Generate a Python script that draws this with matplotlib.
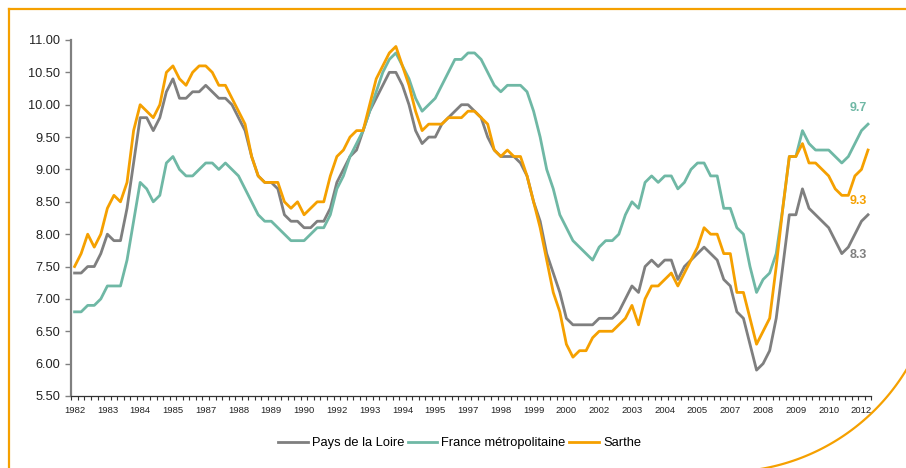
import numpy as np
import matplotlib
matplotlib.use("Agg")
import matplotlib.pyplot as plt
from matplotlib.lines import Line2D

plt.rcParams['font.family'] = ['Liberation Sans', 'DejaVu Sans']

# quarterly unemployment rate (%), 1982 Q1 -> 2012 Q2
pays_loire = [7.4, 7.4, 7.5, 7.5, 7.7, 8.0, 7.9, 7.9, 8.4, 9.1,
              9.8, 9.8, 9.6, 9.8, 10.2, 10.4, 10.1, 10.1, 10.2, 10.2,
              10.3, 10.2, 10.1, 10.1, 10.0, 9.8, 9.6, 9.2, 8.9, 8.8,
              8.8, 8.7, 8.3, 8.2, 8.2, 8.1, 8.1, 8.2, 8.2, 8.4,
              8.8, 9.0, 9.2, 9.3, 9.6, 9.9, 10.1, 10.3, 10.5, 10.5,
              10.3, 10.0, 9.6, 9.4, 9.5, 9.5, 9.7, 9.8, 9.9, 10.0,
              10.0, 9.9, 9.8, 9.5, 9.3, 9.2, 9.2, 9.2, 9.1, 8.9,
              8.5, 8.2, 7.7, 7.4, 7.1, 6.7, 6.6, 6.6, 6.6, 6.6,
              6.7, 6.7, 6.7, 6.8, 7.0, 7.2, 7.1, 7.5, 7.6, 7.5,
              7.6, 7.6, 7.3, 7.5, 7.6, 7.7, 7.8, 7.7, 7.6, 7.3,
              7.2, 6.8, 6.7, 6.3, 5.9, 6.0, 6.2, 6.7, 7.5, 8.3,
              8.3, 8.7, 8.4, 8.3, 8.2, 8.1, 7.9, 7.7, 7.8, 8.0,
              8.2, 8.3]
france = [6.8, 6.8, 6.9, 6.9, 7.0, 7.2, 7.2, 7.2, 7.6, 8.2,
          8.8, 8.7, 8.5, 8.6, 9.1, 9.2, 9.0, 8.9, 8.9, 9.0,
          9.1, 9.1, 9.0, 9.1, 9.0, 8.9, 8.7, 8.5, 8.3, 8.2,
          8.2, 8.1, 8.0, 7.9, 7.9, 7.9, 8.0, 8.1, 8.1, 8.3,
          8.7, 8.9, 9.2, 9.4, 9.6, 9.9, 10.2, 10.5, 10.7, 10.8,
          10.6, 10.4, 10.1, 9.9, 10.0, 10.1, 10.3, 10.5, 10.7, 10.7,
          10.8, 10.8, 10.7, 10.5, 10.3, 10.2, 10.3, 10.3, 10.3, 10.2,
          9.9, 9.5, 9.0, 8.7, 8.3, 8.1, 7.9, 7.8, 7.7, 7.6,
          7.8, 7.9, 7.9, 8.0, 8.3, 8.5, 8.4, 8.8, 8.9, 8.8,
          8.9, 8.9, 8.7, 8.8, 9.0, 9.1, 9.1, 8.9, 8.9, 8.4,
          8.4, 8.1, 8.0, 7.5, 7.1, 7.3, 7.4, 7.7, 8.4, 9.2,
          9.2, 9.6, 9.4, 9.3, 9.3, 9.3, 9.2, 9.1, 9.2, 9.4,
          9.6, 9.7]
sarthe = [7.5, 7.7, 8.0, 7.8, 8.0, 8.4, 8.6, 8.5, 8.8, 9.6,
          10.0, 9.9, 9.8, 10.0, 10.5, 10.6, 10.4, 10.3, 10.5, 10.6,
          10.6, 10.5, 10.3, 10.3, 10.1, 9.9, 9.7, 9.2, 8.9, 8.8,
          8.8, 8.8, 8.5, 8.4, 8.5, 8.3, 8.4, 8.5, 8.5, 8.9,
          9.2, 9.3, 9.5, 9.6, 9.6, 10.0, 10.4, 10.6, 10.8, 10.9,
          10.6, 10.3, 9.9, 9.6, 9.7, 9.7, 9.7, 9.8, 9.8, 9.8,
          9.9, 9.9, 9.8, 9.7, 9.3, 9.2, 9.3, 9.2, 9.2, 8.9,
          8.5, 8.1, 7.6, 7.1, 6.8, 6.3, 6.1, 6.2, 6.2, 6.4,
          6.5, 6.5, 6.5, 6.6, 6.7, 6.9, 6.6, 7.0, 7.2, 7.2,
          7.3, 7.4, 7.2, 7.4, 7.6, 7.8, 8.1, 8.0, 8.0, 7.7,
          7.7, 7.1, 7.1, 6.7, 6.3, 6.5, 6.7, 7.5, 8.4, 9.2,
          9.2, 9.4, 9.1, 9.1, 9.0, 8.9, 8.7, 8.6, 8.6, 8.9,
          9.0, 9.3]

# one label every 5 quarters (as in the original spreadsheet)
xtick_pos = list(range(0, 121, 5))
xtick_labels = ['1982', '1983', '1984', '1985', '1987', '1988', '1989', '1990',
                '1992', '1993', '1994', '1995', '1997', '1998', '1999', '2000',
                '2002', '2003', '2004', '2005', '2007', '2008', '2009', '2010',
                '2012']
yticks = [5.5, 6.0, 6.5, 7.0, 7.5, 8.0, 8.5, 9.0, 9.5, 10.0, 10.5, 11.0]

c_grey = '#7f7f7f'
c_teal = '#6fb8a5'
c_orange = '#f5a000'

fig = plt.figure(figsize=(9.06, 4.68), dpi=100)
ax = fig.add_axes([71.3 / 906, 1 - 396 / 468, 800 / 906, 356 / 468])

x = np.arange(len(pays_loire))
ax.plot(x, pays_loire, color=c_grey, lw=2.0, label='Pays de la Loire')
ax.plot(x, france, color=c_teal, lw=2.0, label='France métropolitaine')
ax.plot(x, sarthe, color=c_orange, lw=2.0, label='Sarthe')

ax.set_xlim(-0.5, len(x) - 0.5)
ax.set_ylim(5.5, 11.0)
ax.set_yticks(yticks)
ax.set_yticklabels(['%.2f' % v for v in yticks], fontsize=9.2, color='#222222')
ax.set_xticks(xtick_pos)
ax.set_xticklabels(xtick_labels, fontsize=6.8, color='#222222')
ax.set_xticks(np.arange(-0.5, len(x), 1.0), minor=True)
ax.tick_params(axis='x', which='major', length=0, pad=7)
ax.tick_params(axis='x', which='minor', length=3, width=0.8, color='#333333')
ax.tick_params(axis='y', length=4, width=1.0, color='#808080', pad=4)

for s in ['top', 'right']:
    ax.spines[s].set_visible(False)
ax.spines['left'].set_color('#808080')
ax.spines['left'].set_linewidth(1.6)
ax.spines['bottom'].set_color('#333333')
ax.spines['bottom'].set_linewidth(0.9)

# end labels
ax.annotate('9.7', (x[-1], france[-1]), xytext=(-10, 16), textcoords='offset pixels',
            ha='center', va='center', color=c_teal, fontsize=9, fontweight='bold')
ax.annotate('9.3', (x[-1], sarthe[-1]), xytext=(-10, -51), textcoords='offset pixels',
            ha='center', va='center', color=c_orange, fontsize=9, fontweight='bold')
ax.annotate('8.3', (x[-1], pays_loire[-1]), xytext=(-10, -40), textcoords='offset pixels',
            ha='center', va='center', color=c_grey, fontsize=9, fontweight='bold')

fig.legend(loc='center', bbox_to_anchor=(459.5 / 906, 1 - 443 / 468), ncol=3,
           frameon=False, fontsize=9.3, handlelength=2.3, handletextpad=0.3,
           columnspacing=0.3)

# orange decorative frame
W, H = 906.0, 468.0
fig.add_artist(Line2D([8.5 / W, 1.0], [1 - 9 / H, 1 - 9 / H], color=c_orange, lw=1.6))
fig.add_artist(Line2D([8.5 / W, 8.5 / W], [0.0, 1 - 9 / H], color=c_orange, lw=1.6))
th = np.linspace(0.2, 1.4, 100)
ax_px = 725 + 212 * np.cos(th)
ay_px = 260 + 212 * np.sin(th)
fig.add_artist(Line2D(ax_px / W, 1 - ay_px / H, color=c_orange, lw=1.6))

fig.savefig('out.png', dpi=100)
